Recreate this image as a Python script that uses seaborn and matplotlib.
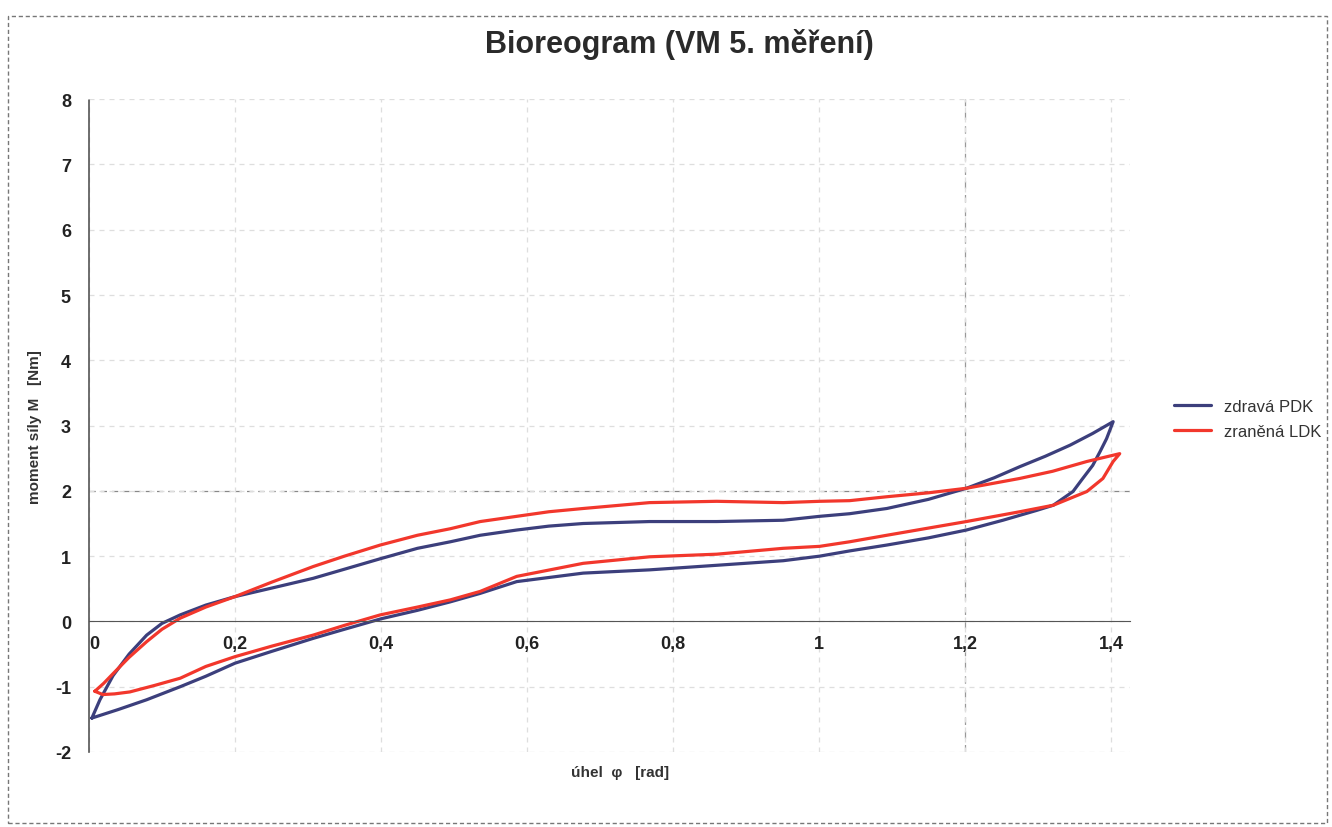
import numpy as np
import pandas as pd
import seaborn as sns
import matplotlib.pyplot as plt
from matplotlib.patches import Rectangle
from matplotlib.ticker import FuncFormatter

# zdrava PDK - loop: upper branch to the tip, back along the lower branch
blue_x = [0.004, 0.015, 0.033, 0.055, 0.079, 0.1, 0.125, 0.16, 0.2, 0.25, 0.307, 0.35, 0.399,
          0.45, 0.495, 0.536, 0.586, 0.63, 0.677, 0.768, 0.86, 0.951, 1.001, 1.042, 1.093,
          1.15, 1.202, 1.24, 1.275, 1.31, 1.344, 1.375, 1.403,
          1.394, 1.385, 1.375, 1.36, 1.348, 1.321, 1.298, 1.252, 1.202, 1.15, 1.093, 1.042,
          1.001, 0.951, 0.86, 0.768, 0.677, 0.586, 0.536, 0.495, 0.45, 0.4, 0.35, 0.307,
          0.25, 0.2, 0.16, 0.125, 0.079, 0.04, 0.004]
blue_y = [-1.48, -1.2, -0.83, -0.5, -0.21, -0.03, 0.1, 0.25, 0.38, 0.51, 0.66, 0.8, 0.96,
          1.12, 1.22, 1.32, 1.4, 1.46, 1.5, 1.53, 1.53, 1.55, 1.61, 1.65, 1.73,
          1.87, 2.04, 2.2, 2.37, 2.53, 2.7, 2.88, 3.06,
          2.8, 2.6, 2.39, 2.17, 1.99, 1.78, 1.7, 1.55, 1.4, 1.28, 1.17, 1.08,
          1.0, 0.93, 0.86, 0.79, 0.74, 0.61, 0.43, 0.3, 0.17, 0.04, -0.12, -0.26,
          -0.46, -0.64, -0.84, -1.0, -1.2, -1.35, -1.48]

# zranena LDK
red_x = [0.008, 0.02, 0.033, 0.055, 0.079, 0.1, 0.125, 0.16, 0.2, 0.25, 0.307, 0.35, 0.399,
         0.45, 0.495, 0.536, 0.586, 0.63, 0.677, 0.768, 0.86, 0.951, 1.001, 1.042, 1.093,
         1.15, 1.202, 1.275, 1.32, 1.367, 1.412,
         1.403, 1.389, 1.367, 1.321, 1.275, 1.202, 1.15, 1.093, 1.042, 1.001, 0.951,
         0.86, 0.768, 0.677, 0.586, 0.536, 0.495, 0.45, 0.399, 0.35, 0.307, 0.25, 0.2,
         0.16, 0.125, 0.09, 0.056, 0.035, 0.019, 0.008]
red_y = [-1.07, -0.95, -0.8, -0.55, -0.31, -0.12, 0.05, 0.22, 0.38, 0.6, 0.84, 1.0, 1.17,
         1.32, 1.42, 1.53, 1.61, 1.68, 1.73, 1.82, 1.84, 1.82, 1.84, 1.85, 1.91,
         1.97, 2.04, 2.19, 2.3, 2.45, 2.57,
         2.45, 2.19, 1.99, 1.78, 1.68, 1.53, 1.43, 1.32, 1.22, 1.15, 1.12,
         1.03, 0.99, 0.89, 0.69, 0.46, 0.33, 0.22, 0.1, -0.06, -0.21, -0.38, -0.54,
         -0.69, -0.87, -0.98, -1.08, -1.11, -1.12, -1.07]

series = ['zdravá PDK', 'zraněná LDK']
colors = ['#3c3f7c', '#f2372c']

df = pd.concat([
    pd.DataFrame({'x': blue_x, 'y': blue_y, 'serie': series[0]}),
    pd.DataFrame({'x': red_x, 'y': red_y, 'serie': series[1]}),
], ignore_index=True)

sns.set_style('white')
plt.rcParams['font.family'] = ['Liberation Sans', 'DejaVu Sans']
plt.rcParams['axes.unicode_minus'] = False

fig = plt.figure(figsize=(13.32, 8.28), dpi=100)
ax = fig.add_axes([0.0668, 0.0906, 0.7815, 0.7884])

sns.lineplot(data=df, x='x', y='y', hue='serie', palette=colors, sort=False,
             estimator=None, linewidth=2.3, ax=ax)

ax.set_xlim(0, 1.426)
ax.set_ylim(-2, 8)
ax.set_xticks(np.arange(0, 1.41, 0.2))
ax.set_yticks(range(-2, 9))
ax.xaxis.set_major_formatter(FuncFormatter(lambda v, p: ('%g' % round(v, 1)).replace('.', ',')))

ax.grid(True, color='#dedede', linestyle=(0, (4, 4)), linewidth=0.9)
ax.axvline(1.2, color='#999999', linestyle=(0, (6, 5)), linewidth=0.9, zorder=0)
ax.axhline(2, color='#888888', linestyle=(0, (5, 4)), linewidth=0.9, zorder=0)

for s in ['top', 'right']:
    ax.spines[s].set_visible(False)
ax.spines['bottom'].set_position(('data', 0))
ax.spines['bottom'].set_color('#555555')
ax.spines['left'].set_color('#555555')
ax.spines['left'].set_linestyle((0, (1, 1)))
ax.spines['left'].set_linewidth(1.2)
ax.tick_params(axis='both', length=0, labelsize=13, labelcolor='#222222')
ax.tick_params(axis='x', pad=10)
ax.tick_params(axis='y', pad=13)
for lab in ax.get_xticklabels() + ax.get_yticklabels():
    lab.set_fontweight('bold')
for lab in ax.get_xticklabels():
    lab.set_horizontalalignment('left' if lab.get_text() == '0' else 'center')

ax.set_xlabel('úhel  φ   [rad]', fontsize=11, fontweight='bold', color='#333333')
ax.xaxis.set_label_coords(0.51, -0.02)
ax.set_ylabel('moment síly M   [Nm]', fontsize=11, fontweight='bold', color='#333333')
ax.yaxis.set_label_coords(-0.045, 0.5)

fig.suptitle('Bioreogram (VM 5. měření)', x=0.51, y=0.965, fontsize=22,
             fontweight='bold', color='#2a2a2a')

leg = ax.legend(loc='center left', bbox_to_anchor=(0.87, 0.493),
                bbox_transform=fig.transFigure, frameon=False, fontsize=12,
                handlelength=2.2, labelspacing=0.6)
for t in leg.get_texts():
    t.set_color('#333333')

fig.patches.append(Rectangle((0.006, 0.005), 0.99, 0.975, transform=fig.transFigure,
                             fill=False, edgecolor='#777777', linestyle=(0, (3, 2)),
                             linewidth=1))

fig.savefig('out.png', dpi=100)
